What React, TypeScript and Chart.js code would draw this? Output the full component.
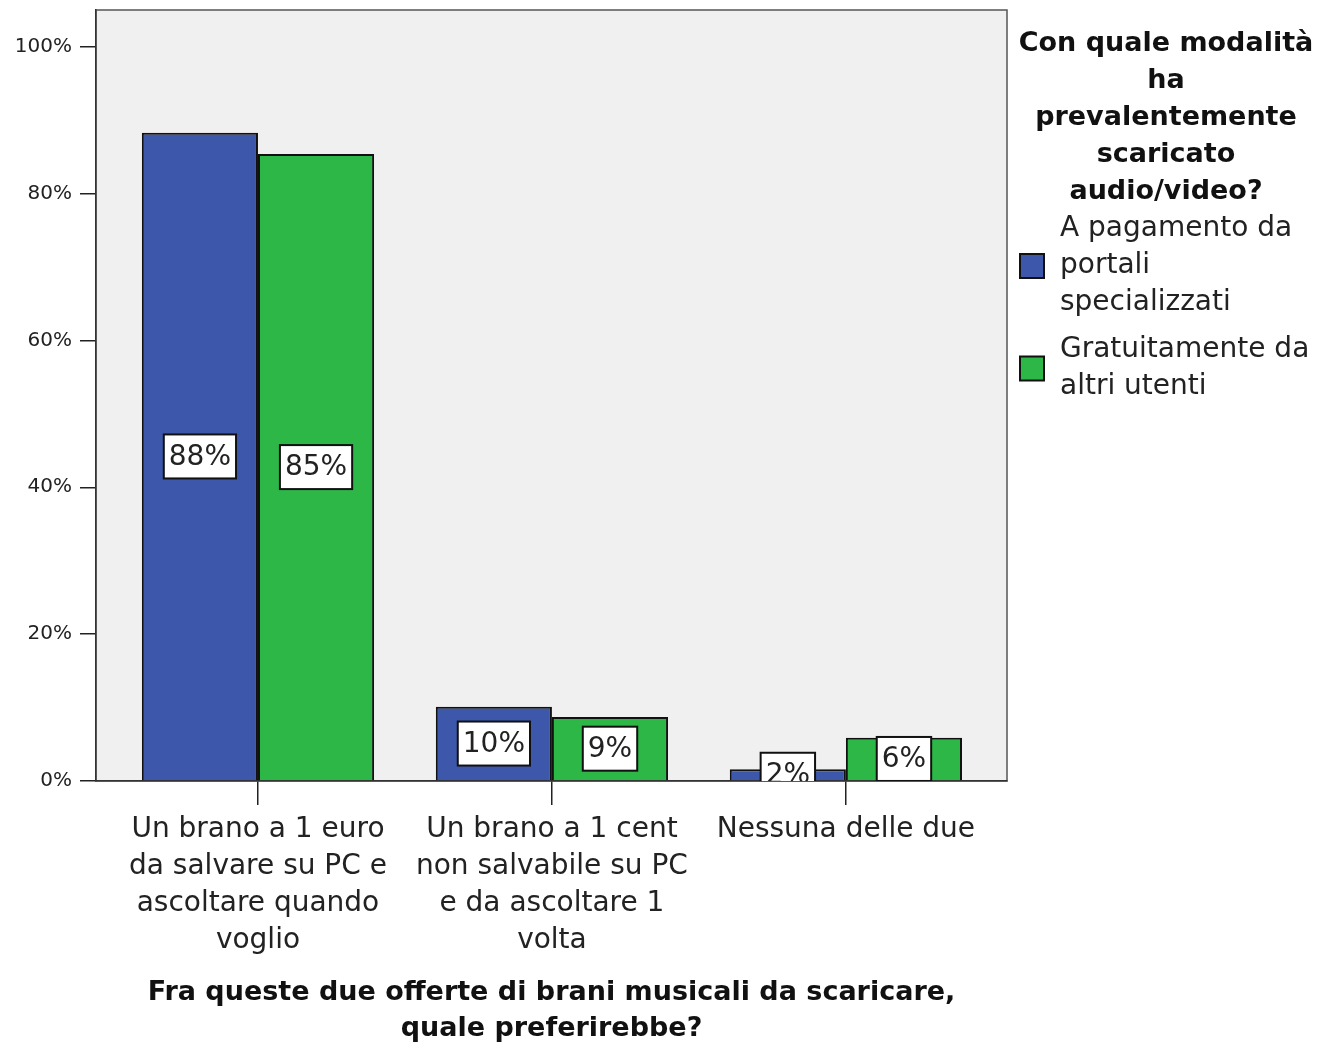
import React, { useEffect, useRef } from "react";
import { Chart, registerables } from "chart.js";

Chart.register(...registerables);

const categories: string[][] = [
  ["Un brano a 1 euro", "da salvare su PC e", "ascoltare quando", "voglio"],
  ["Un brano a 1 cent", "non salvabile su PC", "e da ascoltare 1", "volta"],
  ["Nessuna delle due"],
];
const seriesNames = ["A pagamento da portali specializzati", "Gratuitamente da altri utenti"];
const seriesLegendLines: string[][] = [
  ["A pagamento da", "portali", "specializzati"],
  ["Gratuitamente da", "altri utenti"],
];
const pagamento = [88.3, 10.1, 1.6];
const gratuito = [85.4, 8.7, 5.9];
const yTicks = [0, 20, 40, 60, 80, 100];
const legendTitle = ["Con quale modalità", "ha", "prevalentemente", "scaricato", "audio/video?"];
const xTitle = ["Fra queste due offerte di brani musicali da scaricare,", "quale preferirebbe?"];

const BLUE = "#3d57ab";
const GREEN = "#2db747";
const FONT = "'DejaVu Sans', sans-serif";

const framePlugin = {
  id: "frame",
  beforeDraw(chart: any) {
    const { ctx, chartArea } = chart;
    ctx.save();
    ctx.fillStyle = "#f0f0f0";
    ctx.fillRect(chartArea.left, chartArea.top, chartArea.right - chartArea.left, chartArea.bottom - chartArea.top);
    ctx.strokeStyle = "#555";
    ctx.lineWidth = 1.5;
    ctx.strokeRect(chartArea.left, chartArea.top, chartArea.right - chartArea.left, chartArea.bottom - chartArea.top);
    ctx.restore();
  },
};

const labelPlugin = {
  id: "boxLabels",
  afterDatasetsDraw(chart: any) {
    const { ctx, chartArea } = chart;
    ctx.save();
    ctx.beginPath();
    ctx.rect(chartArea.left, chartArea.top, chartArea.right - chartArea.left, chartArea.bottom - chartArea.top);
    ctx.clip();
    ctx.font = `28px ${FONT}`;
    ctx.textAlign = "center";
    ctx.textBaseline = "middle";
    chart.data.datasets.forEach((ds: any, di: number) => {
      const meta = chart.getDatasetMeta(di);
      meta.data.forEach((bar: any, i: number) => {
        const v = ds.data[i].y;
        const txt = `${Math.round(v)}%`;
        const cy = (bar.y + bar.base) / 2;
        const w = ctx.measureText(txt).width + 10;
        const h = 44;
        ctx.fillStyle = "#fff";
        ctx.fillRect(bar.x - w / 2, cy - h / 2, w, h);
        ctx.strokeStyle = "#111";
        ctx.lineWidth = 2;
        ctx.strokeRect(bar.x - w / 2, cy - h / 2, w, h);
        ctx.fillStyle = "#222";
        ctx.fillText(txt, bar.x, cy + 1);
      });
    });
    ctx.restore();
  },
};

const legendPlugin = {
  id: "customLegend",
  afterDraw(chart: any) {
    const { ctx } = chart;
    ctx.save();
    ctx.fillStyle = "#111";
    ctx.textBaseline = "middle";
    ctx.textAlign = "center";
    ctx.font = `bold 27px ${FONT}`;
    legendTitle.forEach((line, i) => ctx.fillText(line, 1166, 44 + i * 37));
    ctx.textAlign = "left";
    ctx.font = `28px ${FONT}`;
    const starts = [229, 350];
    chart.data.datasets.forEach((ds: any, di: number) => {
      const lines = seriesLegendLines[di];
      const y0 = starts[di];
      ctx.fillStyle = "#222";
      lines.forEach((l, li) => ctx.fillText(l, 1060, y0 + li * 37));
      const cy = y0 + ((lines.length - 1) * 37) / 2;
      ctx.fillStyle = ds.backgroundColor;
      ctx.fillRect(1020, cy - 12, 24, 24);
      ctx.strokeStyle = "#111";
      ctx.lineWidth = 2;
      ctx.strokeRect(1020, cy - 12, 24, 24);
    });
    ctx.restore();
  },
};

export default function App() {
  const ref = useRef<HTMLCanvasElement>(null);
  useEffect(() => {
    document.body.style.margin = "0";
    const chart = new Chart(ref.current!, {
      type: "bar",
      data: {
        datasets: [
          {
            label: seriesNames[0],
            data: pagamento.map((y, i) => ({ x: i, y })),
            backgroundColor: BLUE,
            borderColor: "#111",
            borderWidth: 2,
          },
          {
            label: seriesNames[1],
            data: gratuito.map((y, i) => ({ x: i, y })),
            backgroundColor: GREEN,
            borderColor: "#111",
            borderWidth: 2,
          },
        ],
      },
      options: {
        animation: false,
        responsive: false,
        layout: { padding: { left: 0, right: 312, top: 10, bottom: 0 } },
        datasets: { bar: { categoryPercentage: 0.79, barPercentage: 1 } },
        plugins: { legend: { display: false }, tooltip: { enabled: false } },
        scales: {
          x: {
            type: "linear",
            offset: false,
            min: -0.551,
            max: 2.548,
            afterBuildTicks: (s: any) => {
              s.ticks = categories.map((_, i) => ({ value: i }));
            },
            afterFit: (s: any) => {
              s.height = 266;
            },
            grid: { offset: false, drawOnChartArea: false, drawTicks: true, tickLength: 24, color: "#222", lineWidth: 1.5 },
            border: { display: true, color: "#333", width: 1.5 },
            ticks: {
              autoSkip: false,
              maxRotation: 0,
              padding: 6,
              color: "#222",
              font: { family: FONT, size: 28, lineHeight: 1.32 },
              callback: (_v: any, i: number) => categories[i],
            },
            title: {
              display: true,
              text: xTitle,
              color: "#111",
              font: { family: FONT, size: 27, weight: "bold", lineHeight: "36px" as any },
              padding: { top: 0, bottom: 0 },
            },
          },
          y: {
            min: 0,
            max: 105,
            afterBuildTicks: (s: any) => {
              s.ticks = yTicks.map((v) => ({ value: v }));
            },
            afterFit: (s: any) => {
              s.width = 96;
              s.paddingTop = 0;
              s.paddingBottom = 0;
            },
            grid: { drawOnChartArea: false, drawTicks: true, tickLength: 16, color: "#222", lineWidth: 1.5 },
            border: { display: true, color: "#333", width: 1.5 },
            ticks: {
              padding: 8,
              color: "#222",
              font: { family: FONT, size: 20 },
              callback: (v: any) => `${v}%`,
            },
          },
        },
      },
      plugins: [framePlugin, labelPlugin, legendPlugin],
    });
    return () => chart.destroy();
  }, []);
  return (
    <div style={{ width: 1319, height: 1047 }}>
      <canvas ref={ref} width={1319} height={1047} />
    </div>
  );
}
